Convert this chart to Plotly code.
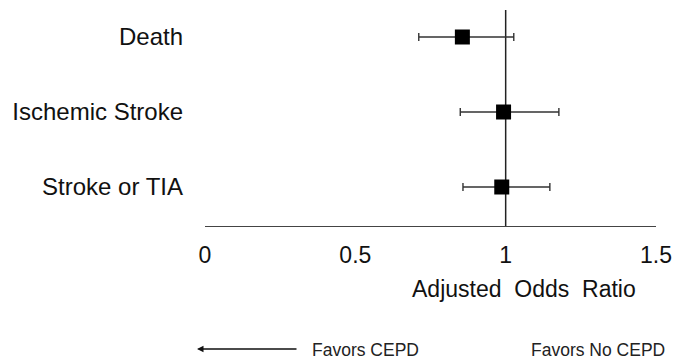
import plotly.graph_objects as go

outcomes = ["Death", "Ischemic Stroke", "Stroke or TIA"]
odds_ratio = [0.856, 0.993, 0.987]
ci_low = [0.711, 0.849, 0.858]
ci_high = [1.027, 1.177, 1.147]
ypos = [3, 2, 1]
xticks = [0, 0.5, 1, 1.5]
xticklabels = ["0", "0.5", "1", "1.5"]

FONT = "Liberation Sans, Arial, sans-serif"

fig = go.Figure()
fig.add_trace(go.Scatter(
    x=odds_ratio, y=ypos, mode="markers",
    marker=dict(symbol="square", size=15, color="black"),
    error_x=dict(type="data", symmetric=False,
                 array=[h - o for h, o in zip(ci_high, odds_ratio)],
                 arrayminus=[o - l for o, l in zip(odds_ratio, ci_low)],
                 color="#333333", thickness=1.4, width=4),
    showlegend=False,
))

fig.add_shape(type="line", xref="x", yref="paper", x0=1, x1=1, y0=0, y1=1,
              line=dict(color="#222222", width=1.5), layer="below")

fig.update_layout(
    width=679, height=360,
    margin=dict(l=205, r=23, t=10, b=134),
    paper_bgcolor="white", plot_bgcolor="white",
    font=dict(family=FONT, color="#111111"),
    xaxis=dict(range=[0, 1.5], tickvals=xticks, ticktext=xticklabels,
               showgrid=False, zeroline=False, showline=True,
               linecolor="#444444", linewidth=1.3, ticks="",
               tickfont=dict(size=23, family=FONT, color="#111111"),
               ticklabelstandoff=8, automargin=False),
    yaxis=dict(range=[0.48, 3.36], tickvals=ypos, ticktext=outcomes,
               showgrid=False, zeroline=False, showline=False, ticks="",
               tickfont=dict(size=24, family=FONT, color="#111111"),
               ticklabelstandoff=21, automargin=False),
    annotations=[
        dict(text="Adjusted  Odds  Ratio", xref="paper", yref="paper",
             x=(524 - 205) / 451, y=(226 - 289) / 216, showarrow=False,
             font=dict(size=23, family=FONT, color="#111111"),
             xanchor="center", yanchor="middle"),
        dict(text="Favors CEPD", xref="paper", yref="paper",
             x=(310 - 205) / 451, y=(226 - 350) / 216, showarrow=False,
             font=dict(size=17.5, family=FONT, color="#222222"),
             xanchor="left", yanchor="middle"),
        dict(text="Favors No CEPD", xref="paper", yref="paper",
             x=(667 - 205) / 451, y=(226 - 350) / 216, showarrow=False,
             font=dict(size=17.5, family=FONT, color="#222222"),
             xanchor="right", yanchor="middle"),
        dict(text="", xref="paper", yref="paper",
             x=(197 - 205) / 451, y=(226 - 349) / 216,
             showarrow=True, ax=101, ay=0, arrowhead=2, arrowsize=1,
             arrowwidth=1.3, arrowcolor="#111111", standoff=0),
    ],
)

fig.write_html("out.html", config={"displayModeBar": False},
               post_script="document.body.style.margin='0';document.body.style.overflow='hidden';")
